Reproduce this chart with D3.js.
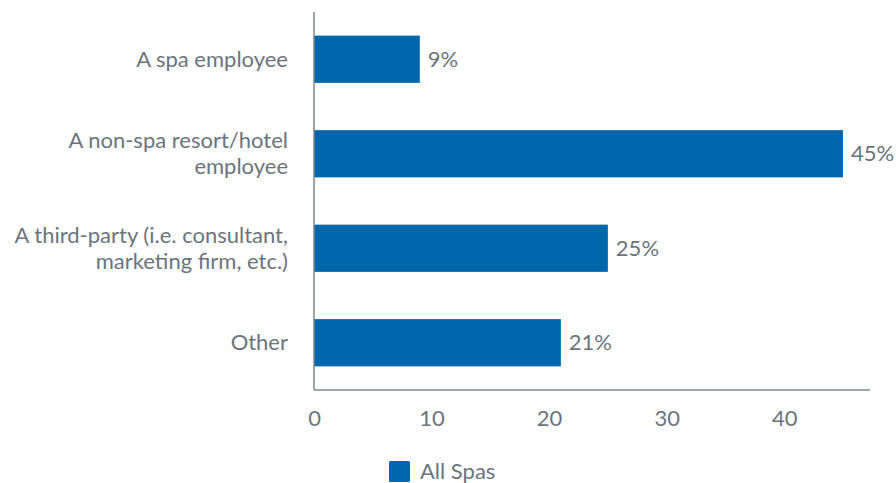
<!DOCTYPE html>
<html>
<head>
<meta charset="utf-8">
<script src="https://cdn.jsdelivr.net/npm/d3@7"></script>
<style>
  html, body { margin: 0; padding: 0; background: #fff; }
  svg { display: block; font-family: Lato, "Open Sans", sans-serif; }
</style>
</head>
<body>
<svg id="chart" width="896" height="483"></svg>
<script>
// Who manages spa marketing — share of responses
const categories = [
  ["A spa employee"],
  ["A non-spa resort/hotel", "employee"],
  ["A third-party (i.e. consultant,", "marketing firm, etc.)"],
  ["Other"]
];
const values = [9, 45, 25, 21];
const tickValues = [0, 10, 20, 30, 40];
const seriesName = "All Spas";

const barColor = "#0067ad";
const textColor = "#6b747d";
const axisColor = "#80878e";
const fontSize = 22;

const svg = d3.select("#chart");
const plotLeft = 314, plotRight = 870, plotTop = 12, plotBottom = 390;

const x = d3.scaleLinear().domain([0, 47.3]).range([plotLeft, plotRight]);
const y = d3.scaleBand()
  .domain(d3.range(categories.length))
  .range([plotTop, plotBottom])
  .paddingInner(0.5)
  .paddingOuter(0.25);

// bars
svg.append("g").selectAll("rect")
  .data(values)
  .join("rect")
  .attr("x", x(0))
  .attr("y", (d, i) => y(i))
  .attr("width", d => x(d) - x(0))
  .attr("height", y.bandwidth())
  .attr("fill", barColor);

// value labels
svg.append("g").selectAll("text")
  .data(values)
  .join("text")
  .attr("x", d => x(d) + 8)
  .attr("y", (d, i) => y(i) + y.bandwidth() / 2)
  .attr("dy", "0.35em")
  .attr("font-size", fontSize)
  .attr("fill", textColor)
  .text(d => d + "%");

// category axis (left)
const yAxis = svg.append("g")
  .attr("transform", `translate(${plotLeft},0)`)
  .call(d3.axisLeft(y).tickSize(0).tickPadding(26).tickFormat(""));
yAxis.select(".domain").attr("stroke", axisColor).attr("stroke-width", 1.5)
  .attr("d", `M0,${plotTop}V${plotBottom}`);
yAxis.selectAll(".tick").each(function (d) {
  const lines = categories[d];
  const lh = 26;
  const t = d3.select(this).select("text")
    .attr("font-size", fontSize)
    .attr("fill", textColor)
    .attr("font-family", "Lato, sans-serif")
    .attr("text-anchor", "end")
    .attr("x", -26)
    .attr("dy", null)
    .attr("y", 0);
  lines.forEach((ln, k) => {
    t.append("tspan")
      .attr("x", -26)
      .attr("y", (k - (lines.length - 1) / 2) * lh)
      .attr("dy", "0.35em")
      .text(ln);
  });
});

// value axis (bottom)
const xAxis = svg.append("g")
  .attr("transform", `translate(0,${plotBottom})`)
  .call(d3.axisBottom(x).tickValues(tickValues).tickSize(0).tickPadding(20));
xAxis.select(".domain").attr("stroke", axisColor).attr("stroke-width", 1.5)
  .attr("d", `M${plotLeft},0H${plotRight}`);
xAxis.selectAll("text")
  .attr("font-size", fontSize)
  .attr("font-family", "Lato, sans-serif")
  .attr("fill", textColor);

// legend
const legend = svg.append("g").attr("transform", "translate(389,461)");
legend.append("rect")
  .attr("width", 21).attr("height", 21).attr("rx", 1.5)
  .attr("fill", barColor);
legend.append("text")
  .attr("x", 31).attr("y", 10.5).attr("dy", "0.35em")
  .attr("font-size", fontSize)
  .attr("fill", textColor)
  .text(seriesName);
</script>
</body>
</html>
